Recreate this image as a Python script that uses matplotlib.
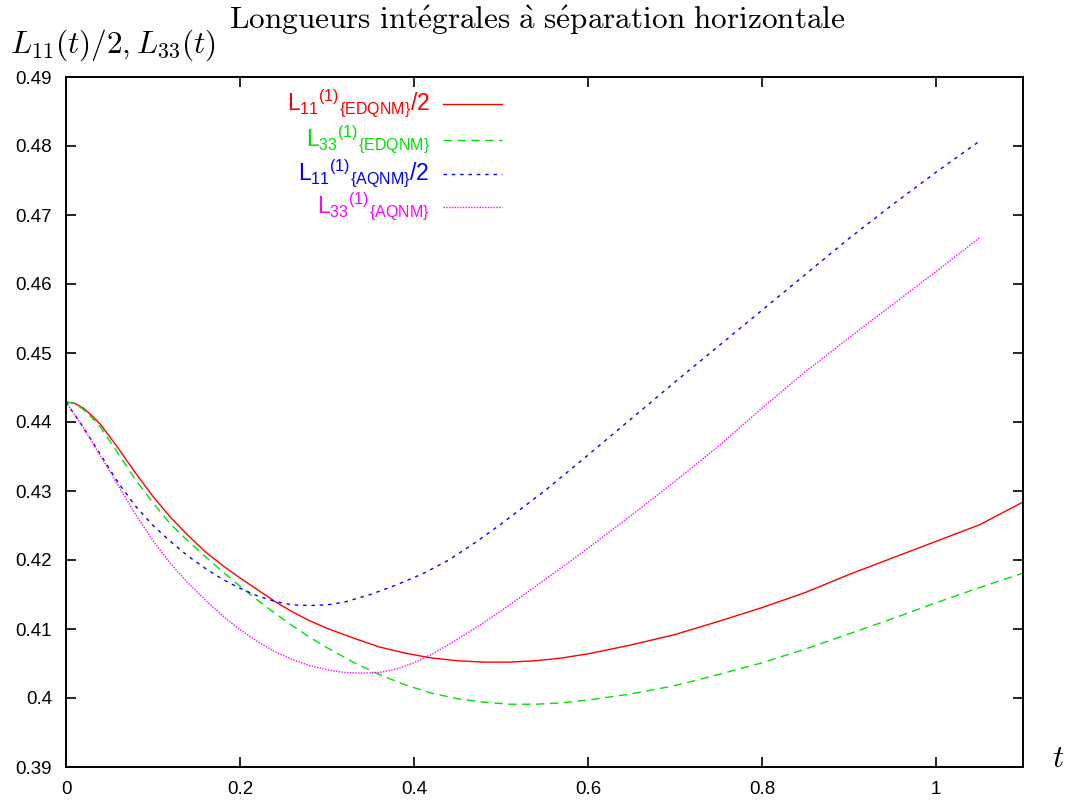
import matplotlib
matplotlib.use("Agg")
import matplotlib.pyplot as plt
from matplotlib.lines import Line2D

plt.rcParams["font.family"] = ["Liberation Sans", "DejaVu Sans"]
plt.rcParams["mathtext.fontset"] = "custom"
plt.rcParams["mathtext.rm"] = "Liberation Sans"
plt.rcParams["mathtext.it"] = "Liberation Sans"
plt.rcParams["mathtext.sf"] = "Liberation Sans"

# L11/2 (EDQNM)
t_red = [0.0, 0.01, 0.02, 0.03, 0.04, 0.06, 0.08, 0.10, 0.12, 0.14, 0.16, 0.18,
         0.20, 0.22, 0.24, 0.26, 0.28, 0.30, 0.33, 0.36, 0.39, 0.42, 0.45, 0.48,
         0.51, 0.54, 0.57, 0.60, 0.65, 0.70, 0.75, 0.80, 0.85, 0.90, 0.95, 1.00,
         1.05, 1.10]
v_red = [0.4429, 0.4427, 0.4420, 0.4409, 0.4396, 0.4362, 0.4326, 0.4292, 0.4262,
         0.4236, 0.4212, 0.4192, 0.4174, 0.4157, 0.4140, 0.4125, 0.4112, 0.4101,
         0.4087, 0.4074, 0.4065, 0.4058, 0.4054, 0.4052, 0.4052, 0.4054, 0.4058,
         0.4064, 0.4077, 0.4092, 0.4111, 0.4131, 0.4153, 0.4179, 0.4203, 0.4227,
         0.4251, 0.4284]

# L33 (EDQNM)
t_green = [0.0, 0.01, 0.02, 0.03, 0.04, 0.06, 0.08, 0.10, 0.12, 0.14, 0.16, 0.18,
           0.20, 0.22, 0.24, 0.26, 0.28, 0.30, 0.33, 0.36, 0.39, 0.42, 0.45, 0.48,
           0.51, 0.54, 0.57, 0.60, 0.65, 0.70, 0.75, 0.80, 0.85, 0.90, 0.95, 1.00,
           1.05, 1.10]
v_green = [0.4429, 0.4427, 0.4418, 0.4406, 0.4392, 0.4354, 0.4316, 0.4283, 0.4252,
           0.4228, 0.4205, 0.4183, 0.4162, 0.4142, 0.4123, 0.4105, 0.4088, 0.4073,
           0.4052, 0.4034, 0.4019, 0.4007, 0.3999, 0.3994, 0.3991, 0.3991, 0.3993,
           0.3997, 0.4006, 0.4018, 0.4034, 0.4051, 0.4071, 0.4093, 0.4115, 0.4138,
           0.4160, 0.4181]

# L11/2 (AQNM)
t_blue = [0.0, 0.02, 0.04, 0.06, 0.08, 0.10, 0.12, 0.14, 0.16, 0.18, 0.20, 0.22,
          0.24, 0.26, 0.28, 0.30, 0.32, 0.35, 0.38, 0.41, 0.44, 0.47, 0.50, 0.55,
          0.60, 0.65, 0.70, 0.75, 0.80, 0.85, 0.90, 0.95, 1.00, 1.05]
v_blue = [0.4429, 0.4392, 0.4352, 0.4312, 0.4278, 0.4250, 0.4227, 0.4206, 0.4188,
          0.4172, 0.4159, 0.4148, 0.4140, 0.4135, 0.4134, 0.4135, 0.4139, 0.4150,
          0.4164, 0.4180, 0.4200, 0.4225, 0.4252, 0.4300, 0.4352, 0.4405, 0.4458,
          0.4510, 0.4562, 0.4614, 0.4666, 0.4715, 0.4762, 0.4807]

# L33 (AQNM)
t_mag = [0.0, 0.02, 0.04, 0.06, 0.08, 0.10, 0.12, 0.14, 0.16, 0.18, 0.20, 0.22,
         0.24, 0.26, 0.28, 0.30, 0.32, 0.34, 0.36, 0.38, 0.40, 0.42, 0.45, 0.48,
         0.51, 0.55, 0.60, 0.65, 0.70, 0.75, 0.80, 0.85, 0.90, 0.95, 1.00, 1.05]
v_mag = [0.4429, 0.4392, 0.4350, 0.4308, 0.4266, 0.4228, 0.4195, 0.4167, 0.4142,
         0.4119, 0.4099, 0.4082, 0.4067, 0.4056, 0.4047, 0.4041, 0.4037, 0.4036,
         0.4037, 0.4042, 0.4051, 0.4063, 0.4085, 0.4109, 0.4135, 0.4171, 0.4217,
         0.4265, 0.4314, 0.4365, 0.4420, 0.4473, 0.4522, 0.4570, 0.4618, 0.4667]

labels = [r"$\mathrm{L_{11}{}^{(1)}{}_{\{EDQNM\}}/2}$",
          r"$\mathrm{L_{33}{}^{(1)}{}_{\{EDQNM\}}}$",
          r"$\mathrm{L_{11}{}^{(1)}{}_{\{AQNM\}}/2}$",
          r"$\mathrm{L_{33}{}^{(1)}{}_{\{AQNM\}}}$"]
colors = ["#ff0000", "#00e000", "#0000ff", "#ff00ff"]
styles = ["-", (0, (6, 4)), (0, (2.5, 3.5)), (0, (1, 1))]

fig = plt.figure(figsize=(10.66, 8.02), dpi=100)
ax = fig.add_axes([66 / 1066, 1 - 767 / 802, (1023 - 66) / 1066, (767 - 77) / 802])

series = [(t_red, v_red), (t_green, v_green), (t_blue, v_blue), (t_mag, v_mag)]
for (tt, vv), c, ls in zip(series, colors, styles):
    ax.plot(tt, vv, color=c, linestyle=ls, linewidth=1.0)

ax.set_xlim(0, 1.1)
ax.set_ylim(0.39, 0.49)
ax.set_xticks([0, 0.2, 0.4, 0.6, 0.8, 1])
ax.set_xticklabels(["0", "0.2", "0.4", "0.6", "0.8", "1"])
ax.set_yticks([0.39, 0.40, 0.41, 0.42, 0.43, 0.44, 0.45, 0.46, 0.47, 0.48, 0.49])
ax.set_yticklabels(["0.39", "0.4", "0.41", "0.42", "0.43", "0.44", "0.45", "0.46",
                    "0.47", "0.48", "0.49"])
ax.tick_params(direction="in", length=7, width=1.2, top=True, right=True,
               labelsize=13.5, pad=10)
for s in ax.spines.values():
    s.set_linewidth(1.4)

# legend, gnuplot style: text right-aligned, sample to the right
rows = [0.961, 0.909, 0.859, 0.812]
for lab, c, ls, y in zip(labels, colors, styles, rows):
    ax.text(0.380, y, lab, transform=ax.transAxes, ha="right", va="center",
            color=c, fontsize=16.5)
    ax.add_line(Line2D([0.394, 0.456], [y, y], transform=ax.transAxes,
                       color=c, linestyle=ls, linewidth=1.0))

fig.text(537 / 1066, 1 - 29 / 802,
         r"$\mathrm{Longueurs\ int\acute{e}grales\ \grave{a}\ s\acute{e}paration\ horizontale}$",
         math_fontfamily="cm", fontsize=22.5, ha="center", va="baseline")
fig.text(10 / 1066, 1 - 53 / 802, r"$L_{11}(t)/2, L_{33}(t)$",
         math_fontfamily="cm", fontsize=22.5, ha="left", va="baseline")
fig.text(1052 / 1066, 1 - 767 / 802, r"$t$",
         math_fontfamily="cm", fontsize=22.5, ha="left", va="baseline")

fig.savefig("out.png", dpi=100)
